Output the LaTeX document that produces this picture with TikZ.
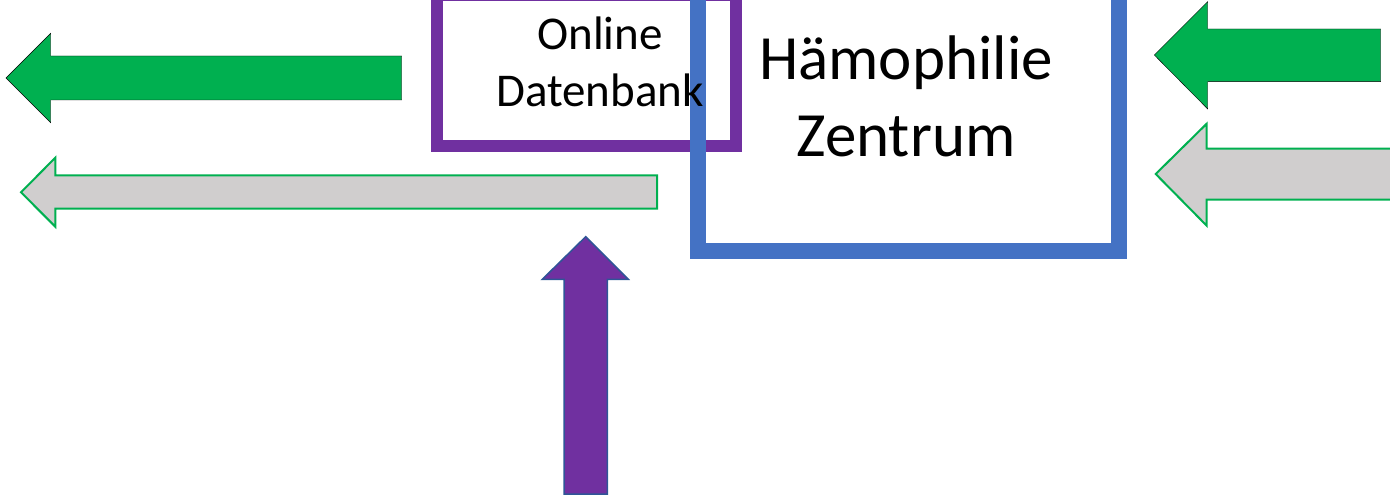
\documentclass[tikz,border=0pt]{standalone}
\usepackage{fontspec}
\setmainfont{Carlito}
\usetikzlibrary{positioning}
\definecolor{arrowgreen}{HTML}{00B050}
\definecolor{arrowgray}{HTML}{D0CECE}
\definecolor{dbpurple}{HTML}{7030A0}
\definecolor{centerblue}{HTML}{4472C4}
\definecolor{edgeblue}{HTML}{2F5597}

\begin{document}
\begin{tikzpicture}[x=1pt, y=-1pt,
    dbbox/.style={draw=dbpurple, line width=12pt, minimum width=299pt, minimum height=151.5pt, inner sep=0pt},
    centerbox/.style={draw=centerblue, line width=16pt, minimum width=421pt, minimum height=291pt, inner sep=0pt},
    dbtext/.style={align=center, inner sep=0pt, font=\fontsize{47}{57}\selectfont},
    centertext/.style={align=center, inner sep=0pt, font=\fontsize{63}{77}\selectfont},
    fullarrow/.style={fill=arrowgreen},
    openarrow/.style={fill=arrowgray, draw=arrowgreen, line width=2pt},
    uparrow/.style={fill=dbpurple, draw=edgeblue, line width=1.5pt},
]
\useasboundingbox (0,0) rectangle (1390,497);
\clip (0,0) rectangle (1390,497);

% boxes
\node[dbbox] (db) at (586.5,70.75) {};
\node[centerbox] (hz) at (908.5,105.5) {};
\node[dbtext] (dblabel) at (600,62) {Online\\Datenbank};
\node[centertext] (hzlabel) at (906,96.5) {Hämophilie\\Zentrum};

% block arrows
\draw[fullarrow] (6,78) -- (50.7,33.3) -- (50.7,56) -- (401.7,56) -- (401.7,100) -- (50.7,100) -- (50.7,122.7) -- cycle;
\draw[openarrow] (21,192.3) -- (55.3,157.7) -- (55.3,175.3) -- (657,175.3) -- (657,208.7) -- (55.3,208.7) -- (55.3,226.7) -- cycle;
\draw[fullarrow] (1154.3,55) -- (1207.7,1.7) -- (1207.7,29) -- (1380.7,29) -- (1380.7,81.7) -- (1207.7,81.7) -- (1207.7,109) -- cycle;
\draw[openarrow] (1155.7,174) -- (1206.7,123.7) -- (1206.7,148.7) -- (1395,148.7) -- (1395,199.7) -- (1206.7,199.7) -- (1206.7,225.7) -- cycle;
\draw[uparrow] (585.7,236.7) -- (628.3,279.3) -- (607.3,279.3) -- (607.3,494) -- (564,494) -- (564,279.3) -- (542.3,279.3) -- cycle;
\end{tikzpicture}
\end{document}
